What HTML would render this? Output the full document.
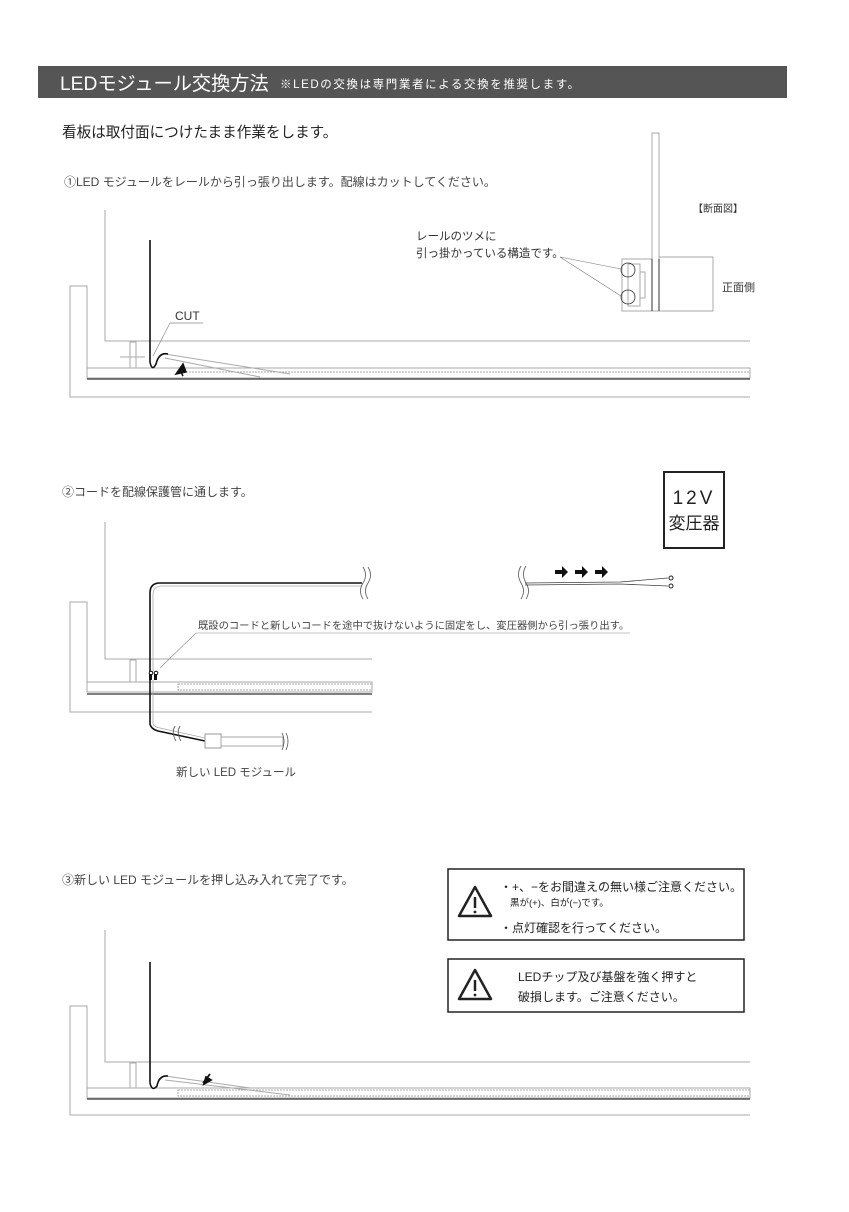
<!DOCTYPE html>
<html><head><meta charset="utf-8"><style>
html,body{margin:0;padding:0;background:#fff}
svg{display:block}
text{font-family:"Liberation Sans","Noto Sans CJK JP",sans-serif;fill:#333}
</style></head><body>
<svg width="849" height="1212" viewBox="0 0 849 1212" xmlns="http://www.w3.org/2000/svg">
<!-- header -->
<rect x="38" y="66" width="749" height="32" fill="#555"/>
<text x="60" y="90" font-size="19.2" style="fill:#fff">LEDモジュール交換方法</text>
<text x="280" y="88" font-size="11.5" style="fill:#fff" letter-spacing="1.6">※LEDの交換は専門業者による交換を推奨します。</text>
<text x="62" y="137" font-size="14.6" style="fill:#222">看板は取付面につけたまま作業をします。</text>

<!-- SECTION 1 -->
<text x="64" y="186" font-size="12" style="fill:#444">①LED モジュールをレールから引っ張り出します。配線はカットしてください。</text>
<g fill="none" stroke="#aaa" stroke-width="1">
<path d="M105 210 V341 H750"/>
<path d="M87 368 V286 H70 V397 H750"/>
<rect x="130" y="342" width="6" height="26"/>
<rect x="87" y="368" width="663" height="10"/>
<path d="M177 372 H750" stroke-dasharray="2,1"/>
<path d="M165 354 L290 374 M165 358 L260 377"/>
<path d="M120 357 H145" />
</g>
<path d="M87 379 H750" stroke="#555" stroke-width="1.5"/>
<path d="M150 240 V362 Q152 372 156 364 Q159 352 168 354" fill="none" stroke="#111" stroke-width="1.6"/>
<path d="M176 374 L183 364 L186 372 Z M180 370 L183 376" fill="#111" stroke="#111" stroke-width="1.5"/>
<text x="175" y="320" font-size="12">CUT</text>
<path d="M170 323 H203 M170 323 L153 356" stroke="#888" stroke-width="0.7" fill="none"/>
<!-- cross section -->
<g fill="none" stroke="#aaa" stroke-width="1">
<rect x="652" y="133" width="7" height="178"/>
<rect x="659" y="257" width="54" height="54"/>
<rect x="622" y="259" width="30" height="52"/>
<rect x="628" y="264" width="12" height="42"/>
<rect x="640" y="272" width="5" height="26"/>
</g>
<path d="M652 259 V311 M659 259 V311" stroke="#333" stroke-width="1"/>
<circle cx="628" cy="270" r="7" fill="none" stroke="#333" stroke-width="0.8"/>
<circle cx="628" cy="297" r="7" fill="none" stroke="#333" stroke-width="0.8"/>
<path d="M560 257 L621 269 M560 257 L621 296" stroke="#777" stroke-width="0.6"/>
<text x="693" y="212" font-size="10">【断面図】</text>
<text x="722" y="291" font-size="11">正面側</text>
<text x="416" y="240" font-size="11.5">レールのツメに</text>
<text x="416" y="257" font-size="11.5">引っ掛かっている構造です。</text>

<!-- SECTION 2 -->
<text x="62" y="496" font-size="12" style="fill:#444">②コードを配線保護管に通します。</text>
<rect x="664" y="472" width="60" height="76" fill="#fff" stroke="#222" stroke-width="2"/>
<text x="694" y="504" font-size="19" text-anchor="middle" letter-spacing="3" style="fill:#222">12V</text>
<text x="694" y="529" font-size="17" text-anchor="middle" style="fill:#222">変圧器</text>
<g fill="none" stroke="#aaa" stroke-width="1">
<path d="M105 522 V659 H372"/>
<path d="M87 682 V602 H70 V712 H372"/>
<rect x="130" y="660" width="6" height="22"/>
<rect x="87" y="682" width="285" height="10"/>
<rect x="178" y="684" width="194" height="6" stroke-dasharray="2,1"/>
</g>
<path d="M87 694 H372" stroke="#555" stroke-width="1.5"/>
<path d="M150 672 V593 Q150 583 160 583 H362" fill="none" stroke="#111" stroke-width="1.6"/>
<path d="M153 672 V595 Q153 586 162 586 H362" fill="none" stroke="#aaa" stroke-width="0.8"/>
<path d="M363 567 Q368 575 363 583 Q358 591 363 599 M368 567 Q373 575 368 583 Q363 591 368 599" fill="none" stroke="#555" stroke-width="0.8"/>
<path d="M521 566 Q516 574 521 583 Q526 591 521 599 M526 566 Q521 574 526 583 Q531 591 526 599" fill="none" stroke="#555" stroke-width="0.8"/>
<path d="M525 583 L620 582 L668 578 M525 585 L620 584 L668 586" fill="none" stroke="#444" stroke-width="0.8"/>
<circle cx="671" cy="578" r="2" fill="none" stroke="#222"/><circle cx="671" cy="586" r="2" fill="none" stroke="#222"/>
<g fill="#111">
<path d="M555 570 h7 v-4 l6 6 -6 6 v-4 h-7 z"/>
<path d="M575 570 h7 v-4 l6 6 -6 6 v-4 h-7 z"/>
<path d="M595 570 h7 v-4 l6 6 -6 6 v-4 h-7 z"/>
</g>
<text x="198" y="629" font-size="10.3" style="fill:#444">既設のコードと新しいコードを途中で抜けないように固定をし、変圧器側から引っ張り出す。</text>
<path d="M196 633 H630 M196 633 L160 668" stroke="#888" stroke-width="0.6" fill="none"/>
<rect x="149" y="674" width="3" height="6" fill="#111"/><rect x="154" y="674" width="3" height="6" fill="#111"/>
<circle cx="151" cy="673" r="1.8" fill="none" stroke="#111"/><circle cx="156" cy="673" r="1.8" fill="none" stroke="#111"/>
<path d="M150 680 V724 Q151 729 158 731 L205 741 H222" fill="none" stroke="#111" stroke-width="1.6"/>
<path d="M153 680 V724 Q154 727 160 728 L205 738" fill="none" stroke="#aaa" stroke-width="0.8"/>
<rect x="205" y="734" width="16" height="14" fill="#fff" stroke="#999"/>
<rect x="221" y="737" width="62" height="9" fill="#fff" stroke="#aaa"/>
<path d="M175 726 Q171 733 176 741 M180 726 Q176 733 181 741 M282 733 Q286 741 282 750 M286 733 Q290 741 286 750" fill="none" stroke="#555" stroke-width="0.8"/>
<text x="176" y="776" font-size="11.5" style="fill:#444">新しい LED モジュール</text>

<!-- SECTION 3 -->
<text x="62" y="884" font-size="12" style="fill:#444">③新しい LED モジュールを押し込み入れて完了です。</text>
<rect x="448" y="869" width="296" height="71" fill="#fff" stroke="#222" stroke-width="1.5"/>
<path d="M475 887 L491 916 H459 Z" fill="none" stroke="#222" stroke-width="2.5" stroke-linejoin="round"/>
<path d="M475 897 V908" stroke="#222" stroke-width="2.5"/><circle cx="475" cy="912" r="1.4" fill="#222"/>
<text x="500" y="891" font-size="12" style="fill:#222">・+、−をお間違えの無い様ご注意ください。</text>
<text x="510" y="906" font-size="9.5" style="fill:#222">黒が(+)、白が(−)です。</text>
<text x="500" y="932" font-size="12" style="fill:#222">・点灯確認を行ってください。</text>
<rect x="448" y="959" width="296" height="53" fill="#fff" stroke="#222" stroke-width="1.5"/>
<path d="M475 970 L491 999 H459 Z" fill="none" stroke="#222" stroke-width="2.5" stroke-linejoin="round"/>
<path d="M475 980 V991" stroke="#222" stroke-width="2.5"/><circle cx="475" cy="995" r="1.4" fill="#222"/>
<text x="518" y="981" font-size="12" style="fill:#222">LEDチップ及び基盤を強く押すと</text>
<text x="518" y="1001" font-size="12" style="fill:#222">破損します。ご注意ください。</text>
<g fill="none" stroke="#aaa" stroke-width="1">
<path d="M105 930 V1062 H750"/>
<path d="M87 1088 V1006 H70 V1115 H750"/>
<rect x="130" y="1063" width="6" height="25"/>
<rect x="87" y="1088" width="663" height="10"/>
<rect x="178" y="1090" width="572" height="6" stroke-dasharray="2,1"/>
<path d="M165 1076 L250 1088 H750 M165 1080 L290 1095"/>
</g>
<path d="M87 1099 H750" stroke="#555" stroke-width="1.5"/>
<path d="M150 962 V1083 Q152 1092 157 1086 Q159 1075 168 1076" fill="none" stroke="#111" stroke-width="1.6"/>
<path d="M203 1083 L210 1074 M204 1084 L206 1077 L211 1080 Z" fill="#111" stroke="#111" stroke-width="1.8"/>
</svg>
</body></html>
